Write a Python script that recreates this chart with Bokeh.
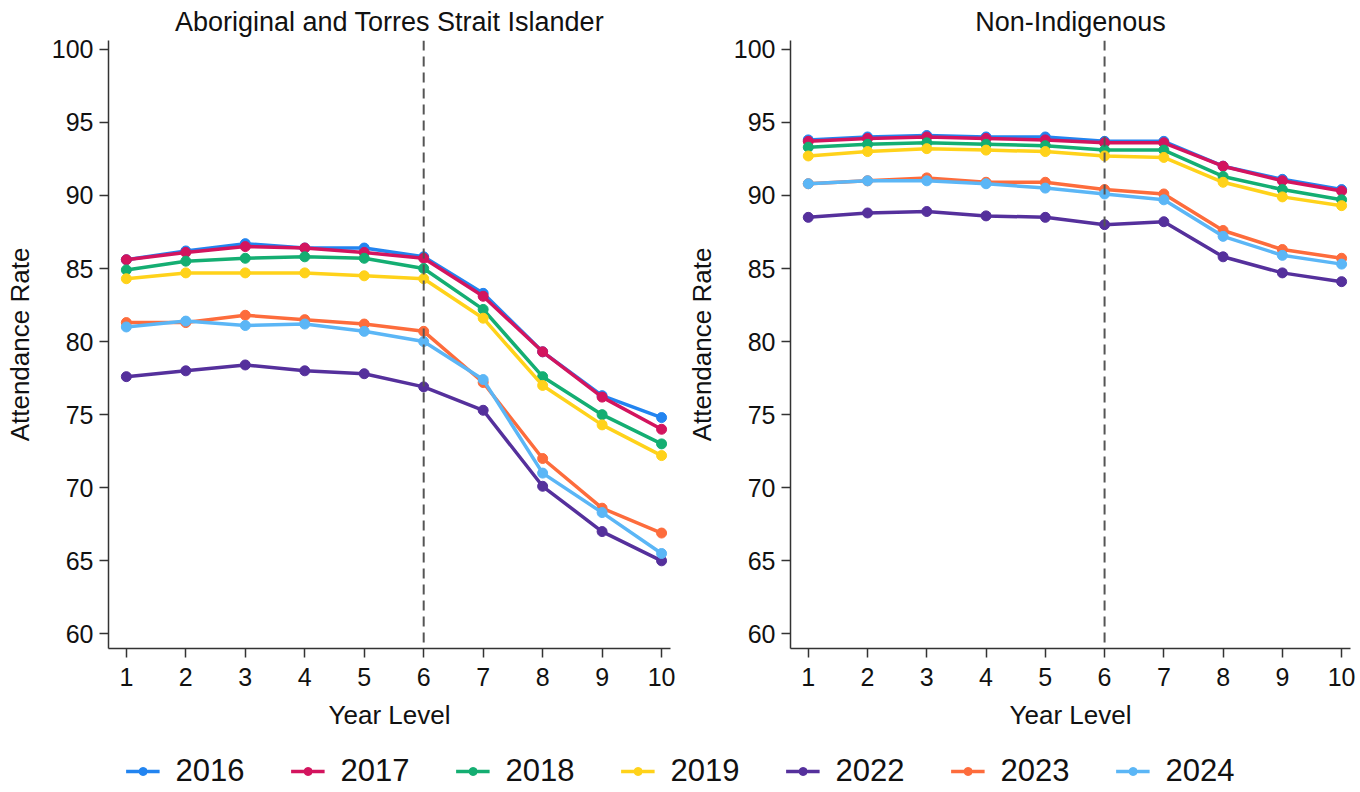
from bokeh.plotting import figure
from bokeh.layouts import column, row
from bokeh.models import Span, Legend, LegendItem, Range1d, FixedTicker
from bokeh.embed import file_html
from bokeh.resources import INLINE

FONT = "Liberation Sans"

year_levels = [1, 2, 3, 4, 5, 6, 7, 8, 9, 10]
series_years = ["2016", "2017", "2018", "2019", "2022", "2023", "2024"]
series_colors = ["#2284F0", "#D3145E", "#14AE72", "#FFD21A", "#55309C", "#FD6C3C", "#5BB6F6"]
y_ticks = [60, 65, 70, 75, 80, 85, 90, 95, 100]

# Aboriginal and Torres Strait Islander
atsi_2016 = [85.6, 86.2, 86.7, 86.4, 86.4, 85.8, 83.3, 79.3, 76.3, 74.8]
atsi_2017 = [85.6, 86.1, 86.5, 86.4, 86.1, 85.7, 83.1, 79.3, 76.2, 74.0]
atsi_2018 = [84.9, 85.5, 85.7, 85.8, 85.7, 85.0, 82.2, 77.6, 75.0, 73.0]
atsi_2019 = [84.3, 84.7, 84.7, 84.7, 84.5, 84.3, 81.6, 77.0, 74.3, 72.2]
atsi_2022 = [77.6, 78.0, 78.4, 78.0, 77.8, 76.9, 75.3, 70.1, 67.0, 65.0]
atsi_2023 = [81.3, 81.3, 81.8, 81.5, 81.2, 80.7, 77.2, 72.0, 68.6, 66.9]
atsi_2024 = [81.0, 81.4, 81.1, 81.2, 80.7, 80.0, 77.4, 71.0, 68.3, 65.5]

# Non-Indigenous
nonind_2016 = [93.8, 94.0, 94.1, 94.0, 94.0, 93.7, 93.7, 92.0, 91.1, 90.4]
nonind_2017 = [93.7, 93.9, 94.0, 93.9, 93.8, 93.6, 93.6, 92.0, 91.0, 90.3]
nonind_2018 = [93.3, 93.5, 93.6, 93.5, 93.4, 93.1, 93.1, 91.3, 90.4, 89.7]
nonind_2019 = [92.7, 93.0, 93.2, 93.1, 93.0, 92.7, 92.6, 90.9, 89.9, 89.3]
nonind_2022 = [88.5, 88.8, 88.9, 88.6, 88.5, 88.0, 88.2, 85.8, 84.7, 84.1]
nonind_2023 = [90.8, 91.0, 91.2, 90.9, 90.9, 90.4, 90.1, 87.6, 86.3, 85.7]
nonind_2024 = [90.8, 91.0, 91.0, 90.8, 90.5, 90.1, 89.7, 87.2, 85.9, 85.3]

atsi_series = [atsi_2016, atsi_2017, atsi_2018, atsi_2019, atsi_2022, atsi_2023, atsi_2024]
nonind_series = [nonind_2016, nonind_2017, nonind_2018, nonind_2019, nonind_2022, nonind_2023, nonind_2024]


def make_panel(title, series, width, border_left, border_right):
    p = figure(width=width, height=750, output_backend="svg", toolbar_location=None,
               x_range=Range1d(0.7, 10.15), y_range=Range1d(59.0, 100.6),
               min_border_left=border_left, min_border_right=border_right,
               min_border_top=40, min_border_bottom=102)
    p.title.text = title
    p.title.align = "center"
    p.title.text_font = FONT
    p.title.text_font_size = "27px"
    p.title.text_font_style = "normal"
    p.title.text_color = "#111111"
    p.title.standoff = 8
    p.outline_line_color = None
    p.xgrid.grid_line_color = None
    p.ygrid.grid_line_color = None
    p.background_fill_color = "white"
    p.border_fill_color = "white"

    for ax in (p.xaxis[0], p.yaxis[0]):
        ax.axis_line_color = "#333333"
        ax.axis_line_width = 1.5
        ax.major_tick_line_color = "#333333"
        ax.major_tick_line_width = 1.5
        ax.major_tick_out = 9
        ax.major_tick_in = 0
        ax.minor_tick_line_color = None
        ax.major_label_text_font = FONT
        ax.major_label_text_font_size = "25px"
        ax.major_label_text_color = "#111111"
        ax.axis_label_text_font = FONT
        ax.axis_label_text_font_size = "26px"
        ax.axis_label_text_font_style = "normal"
        ax.axis_label_text_color = "#111111"
    p.xaxis.ticker = FixedTicker(ticks=year_levels)
    p.yaxis.ticker = FixedTicker(ticks=y_ticks)
    p.xaxis.axis_label = "Year Level"
    p.yaxis.axis_label = "Attendance Rate"
    p.xaxis.major_label_standoff = 10
    p.yaxis.major_label_standoff = 6
    p.xaxis.axis_label_standoff = 11
    p.yaxis.axis_label_standoff = 14

    p.add_layout(Span(location=6, dimension="height", line_color="#555555",
                      line_width=2, line_dash="10 6"))

    for vals, col in zip(series, series_colors):
        p.line(year_levels, vals, line_color=col, line_width=3.5)
        p.scatter(year_levels, vals, size=10, fill_color=col, line_color=col)
    return p


p1 = make_panel("Aboriginal and Torres Strait Islander", atsi_series, 682, 108, 12)
p2 = make_panel("Non-Indigenous", nonind_series, 678, 108, 10)

leg = figure(width=1360, height=42, output_backend="svg", toolbar_location=None,
             x_range=Range1d(0, 1), y_range=Range1d(0, 1), min_border=0)
leg.axis.visible = False
leg.xgrid.grid_line_color = None
leg.ygrid.grid_line_color = None
leg.outline_line_color = None
items = []
for yr, col in zip(series_years, series_colors):
    lr = leg.line([-5, -4], [-5, -4], line_color=col, line_width=3.5)
    cr = leg.scatter([-5], [-5], size=9, fill_color=col, line_color=col)
    items.append(LegendItem(label=yr, renderers=[lr, cr]))
legend = Legend(items=items, orientation="horizontal", location="center",
                label_text_font=FONT, label_text_font_size="31px",
                label_text_color="#111111", glyph_width=34, glyph_height=20,
                spacing=46, border_line_color=None, background_fill_alpha=0,
                label_standoff=16, padding=0, margin=0)
leg.add_layout(legend, "center")

layout = column(row(p1, p2), leg)
open("out.html", "w").write(file_html(layout, INLINE))
